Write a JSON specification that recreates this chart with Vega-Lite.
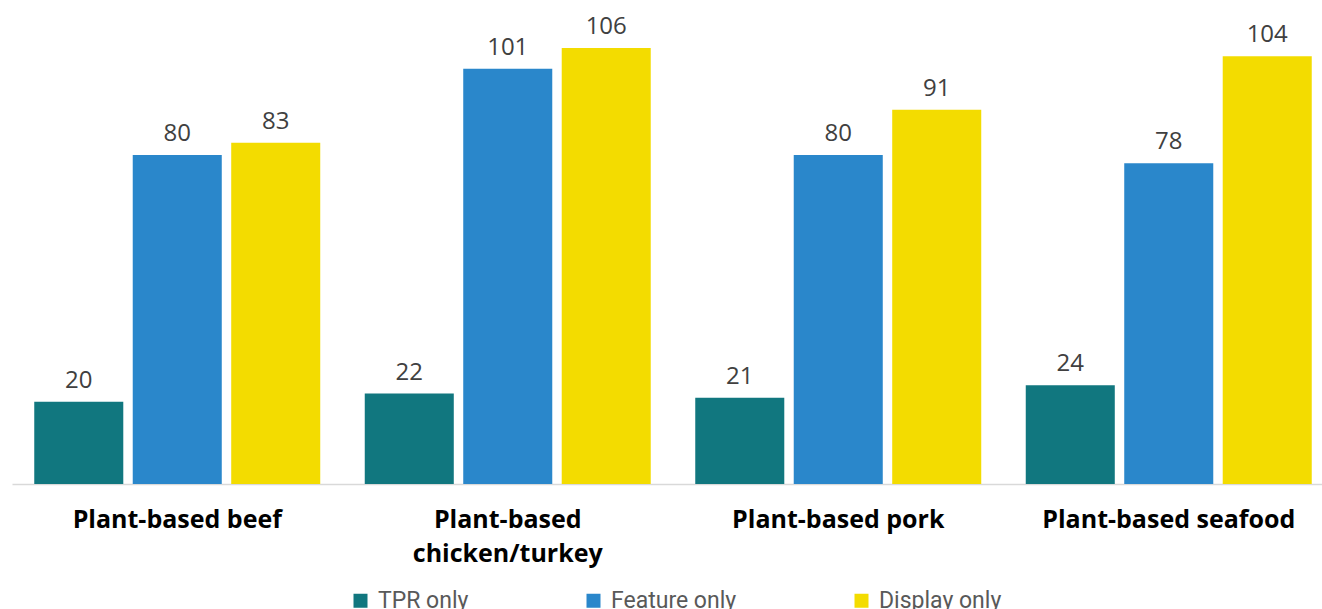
{
  "$schema": "https://vega.github.io/schema/vega-lite/v6.json",
  "autosize": {"type": "none"},
  "padding": {"left": 12, "top": 0, "right": 0, "bottom": 125},
  "width": 1322,
  "height": 484,
  "background": "white",
  "config": {"view": {"stroke": null}},
  "data": {
    "values": [
      {"category": "Plant-based beef", "series": "TPR only", "value": 20},
      {"category": "Plant-based beef", "series": "Feature only", "value": 80},
      {"category": "Plant-based beef", "series": "Display only", "value": 83},
      {"category": "Plant-based chicken/turkey", "series": "TPR only", "value": 22},
      {"category": "Plant-based chicken/turkey", "series": "Feature only", "value": 101},
      {"category": "Plant-based chicken/turkey", "series": "Display only", "value": 106},
      {"category": "Plant-based pork", "series": "TPR only", "value": 21},
      {"category": "Plant-based pork", "series": "Feature only", "value": 80},
      {"category": "Plant-based pork", "series": "Display only", "value": 91},
      {"category": "Plant-based seafood", "series": "TPR only", "value": 24},
      {"category": "Plant-based seafood", "series": "Feature only", "value": 78},
      {"category": "Plant-based seafood", "series": "Display only", "value": 104}
    ]
  },
  "encoding": {
    "x": {
      "field": "category",
      "type": "nominal",
      "sort": null,
      "scale": {"paddingInner": 0, "paddingOuter": 0},
      "axis": {
        "title": null,
        "labelAngle": 0,
        "ticks": false,
        "domainColor": "#d9d9d9",
        "domainWidth": 1.5,
        "labelFont": "Open Sans",
        "labelFontWeight": "bold",
        "labelFontSize": 25,
        "labelColor": "#000000",
        "labelPadding": 23,
        "labelLineHeight": 34,
        "labelLimit": 400,
        "labelExpr": "datum.label == 'Plant-based chicken/turkey' ? ['Plant-based', 'chicken/turkey'] : datum.label"
      }
    },
    "xOffset": {
      "field": "series",
      "type": "nominal",
      "sort": ["TPR only", "Feature only", "Display only"],
      "scale": {"paddingInner": 0.096, "paddingOuter": 0.226}
    },
    "y": {
      "field": "value",
      "type": "quantitative",
      "scale": {"domain": [0, 117.7], "nice": false},
      "axis": null
    }
  },
  "layer": [
    {
      "mark": {"type": "bar"},
      "encoding": {
        "color": {
          "field": "series",
          "type": "nominal",
          "sort": ["TPR only", "Feature only", "Display only"],
          "scale": {
            "domain": ["TPR only", "Feature only", "Display only"],
            "range": ["#11777F", "#2A87CB", "#F3DC00"]
          },
          "legend": {
            "title": null,
            "orient": "none",
            "direction": "horizontal",
            "legendX": 337,
            "legendY": 589,
            "symbolType": "square",
            "symbolSize": 196,
            "symbolStrokeWidth": 0,
            "symbolOffset": 0,
            "labelFont": "Roboto",
            "labelFontSize": 23,
            "labelColor": "#595959",
            "labelOffset": 6,
            "columnPadding": 113,
            "padding": 0
          }
        }
      }
    },
    {
      "mark": {
        "type": "text",
        "baseline": "alphabetic",
        "dy": -14,
        "font": "Open Sans",
        "fontSize": 24,
        "color": "#404040"
      },
      "encoding": {
        "text": {"field": "value", "type": "quantitative"}
      }
    }
  ]
}
